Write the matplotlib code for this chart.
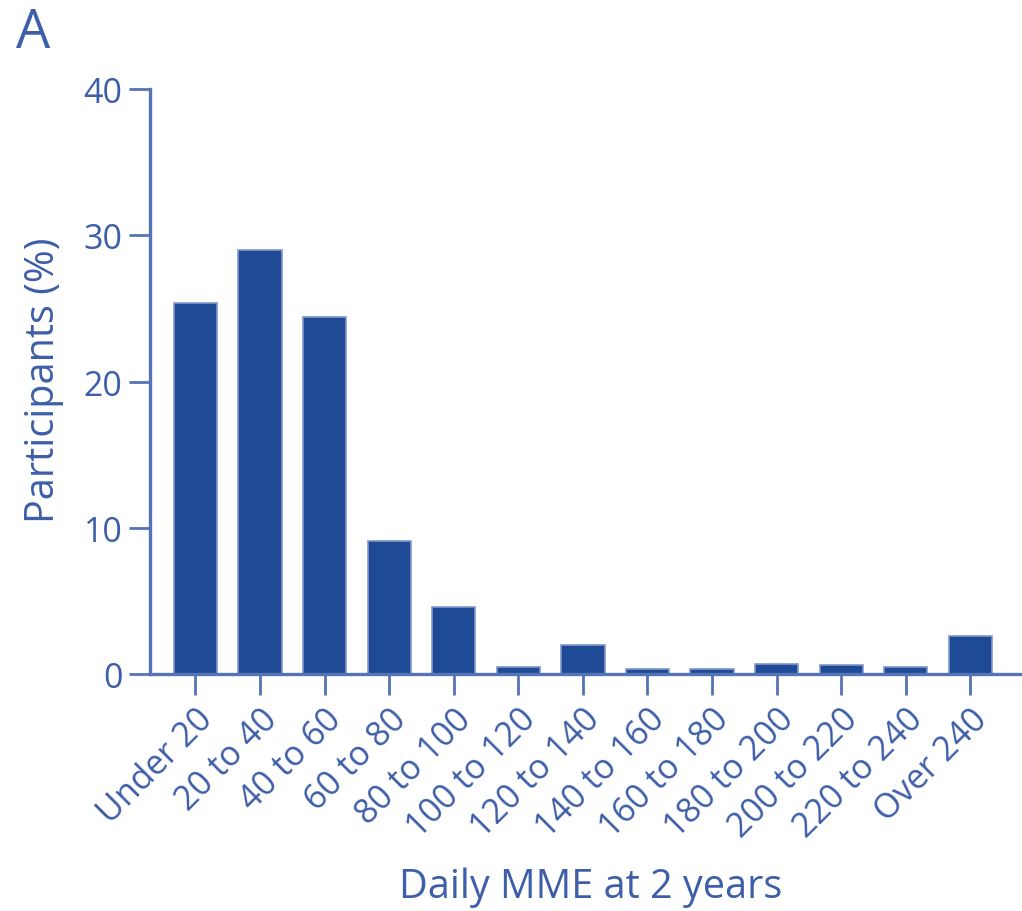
import numpy as np
import matplotlib
matplotlib.use("Agg")
import matplotlib.pyplot as plt

categories = ["Under 20", "20 to 40", "40 to 60", "60 to 80", "80 to 100",
              "100 to 120", "120 to 140", "140 to 160", "160 to 180",
              "180 to 200", "200 to 220", "220 to 240", "Over 240"]
participants = [25.4, 29.0, 24.4, 9.1, 4.6, 0.5, 2.0, 0.3, 0.3, 0.7, 0.6, 0.5, 2.6]
yticks = [0, 10, 20, 30, 40]

bar_color = "#1f4a96"
text_color = "#3d5ea8"
axis_color = "#5474b6"

plt.rcParams["font.family"] = ["Open Sans", "DejaVu Sans"]

fig = plt.figure(figsize=(10.22, 9.12), dpi=100)
ax = fig.add_axes([0.147, 0.26, 0.853, 0.641])

x = np.arange(len(categories))
ax.bar(x, participants, width=0.67, color=bar_color,
       edgecolor="#7f97c9", linewidth=1.2)

ax.set_xlim(-0.7, 12.8)
ax.set_ylim(0, 40)
ax.set_yticks(yticks)
ax.set_xticks(x)
ax.set_xticklabels(categories, rotation=45, ha="right", rotation_mode="anchor")

for side in ["top", "right"]:
    ax.spines[side].set_visible(False)
for side in ["left", "bottom"]:
    ax.spines[side].set_color(axis_color)
    ax.spines[side].set_linewidth(2.4)

ax.tick_params(axis="both", direction="out", length=15, width=2.0,
               color=axis_color, labelcolor=text_color, labelsize=24.5, pad=5)

# axis titles placed in figure coordinates
fig.text(0.043, 0.583, "Participants (%)", fontsize=28.5, color=text_color,
         rotation=90, ha="center", va="center")
fig.text(0.578, 1 - 888 / 912, "Daily MME at 2 years", fontsize=28.5,
         color=text_color, ha="center", va="center")

fig.text(0.016, 0.993, "A", fontsize=39, color=text_color, va="top", ha="left")

fig.savefig("out.png", dpi=100)
